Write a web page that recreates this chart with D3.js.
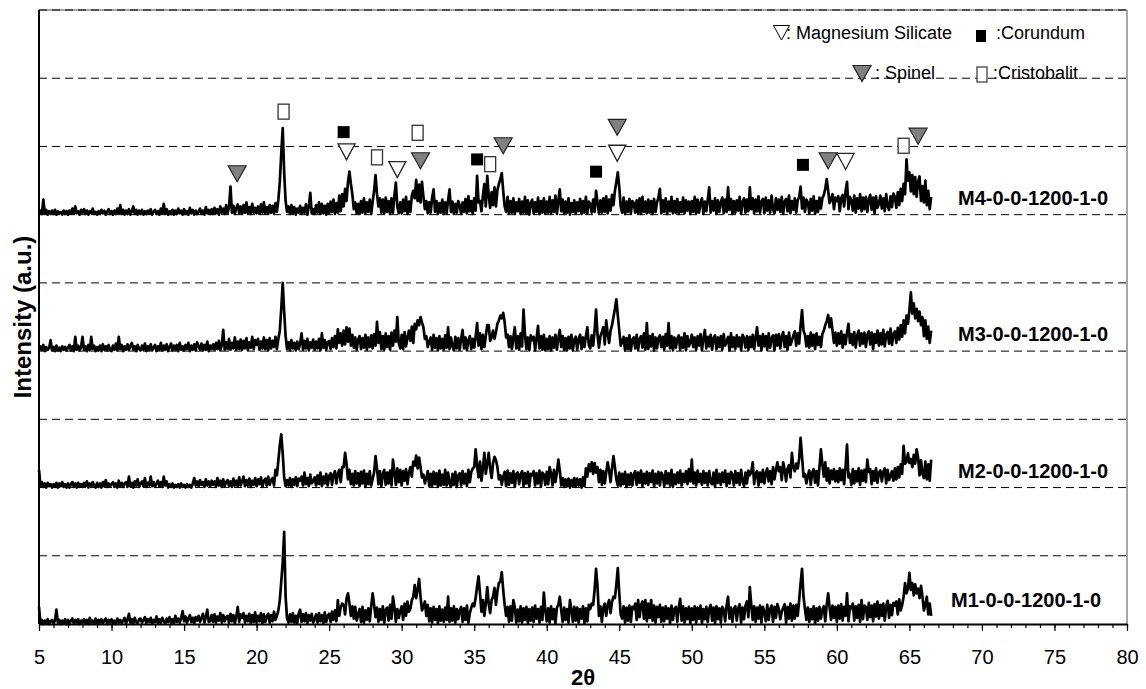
<!DOCTYPE html>
<html>
<head>
<meta charset="utf-8">
<title>XRD patterns M1-M4</title>
<script src="https://d3js.org/d3.v7.min.js"></script>
<style>
  body { margin: 0; background: #fff; }
  svg text { font-family: "Liberation Sans", Arial, sans-serif; fill: #000; }
</style>
</head>
<body>
<div id="chart"></div>
<script>
// scan: 2theta from 5.0 in steps of 0.1 deg, one row per degree
var startAngle = 5, stepAngle = 0.1;

var m1Values = [
  25,1,6,0,5,1,7,0,4,6,
  1,5,21,2,6,0,5,1,7,0,
  6,0,5,8,1,6,2,7,0,5,
  2,7,1,6,0,9,2,5,1,8,
  0,6,2,7,1,5,8,0,6,2,
  7,1,5,0,8,2,6,1,5,9,
  1,6,15,2,7,0,9,3,1,7,
  8,2,6,10,1,7,3,9,0,6,
  3,11,1,7,2,9,4,1,8,3,
  10,2,7,1,12,3,8,2,9,19,
  4,11,2,8,13,3,9,1,10,5,
  12,3,9,15,2,10,21,3,4,13,
  3,14,2,11,5,16,2,13,4,10,
  12,2,15,4,13,1,11,25,3,14,
  9,16,2,12,4,15,1,13,3,17,
  2,12,4,16,1,14,3,11,15,2,
  13,4,18,6,12,20,35,62,90,135,
  40,8,2,14,3,16,2,12,1,15,
  21,3,14,4,16,1,13,5,15,2,
  7,14,2,16,4,13,1,17,3,12,
  15,3,18,6,20,4,35,12,25,30,
  28,14,38,45,30,12,26,8,25,5,
  14,22,3,25,2,20,6,23,4,26,
  45,28,10,24,3,22,6,26,2,21,
  24,5,28,8,40,25,3,22,9,19,
  26,6,30,12,33,18,22,35,40,57,
  38,50,66,40,20,25,33,12,28,4,
  23,2,25,6,22,1,26,5,21,3,
  24,6,40,3,23,5,26,2,22,7,
  20,25,3,23,6,27,2,16,24,30,
  26,38,55,70,45,18,35,12,30,54,
  30,16,35,40,53,28,48,60,62,76,
  50,28,12,25,3,26,5,35,24,2,
  21,4,26,2,23,6,25,1,22,5,
  24,3,27,8,22,2,25,6,46,21,
  4,23,2,26,7,22,1,24,28,40,
  20,3,24,6,22,2,35,21,3,25,
  5,24,2,22,8,26,1,23,4,28,
  22,30,28,50,81,55,12,26,3,24,
  30,12,28,35,16,32,40,38,58,82,
  45,14,8,26,2,24,5,27,3,25,
  22,30,6,35,10,28,33,8,35,4,
  30,9,35,5,27,2,25,10,28,3,
  24,4,26,8,23,1,27,6,22,25,
  3,24,37,5,26,2,23,7,25,1,
  23,6,26,2,24,8,27,1,22,7,
  25,3,22,28,5,24,1,26,7,23,
  2,25,21,4,27,40,8,24,3,22,
  26,5,23,29,2,24,7,27,33,10,
  54,28,6,26,3,24,8,27,2,25,
  18,4,28,6,22,27,3,25,9,29,
  22,7,18,24,29,2,25,8,30,5,
  27,8,28,12,35,60,81,40,22,6,
  24,3,22,7,26,1,23,5,25,8,
  21,26,4,28,45,24,6,27,9,25,
  3,27,8,29,5,25,12,45,4,26,
  23,30,5,26,9,28,3,35,7,27,
  25,6,31,10,27,4,29,11,33,8,
  28,12,30,5,26,34,9,28,13,31,
  27,33,14,36,20,28,40,60,45,52,
  75,50,60,42,58,45,52,38,56,40,
  20,28,40,14,30,12
];

var m2Values = [
  26,2,8,1,6,0,7,2,5,0,
  5,1,7,0,6,2,8,1,5,0,
  6,0,5,8,1,6,0,7,2,5,
  1,7,2,9,0,6,1,8,3,0,
  7,1,6,0,8,2,11,1,6,2,
  5,8,1,6,0,10,2,7,1,6,
  8,1,16,2,7,0,9,3,12,1,
  6,9,2,14,1,7,3,16,2,8,
  1,6,10,2,8,1,16,3,9,0,
  5,1,6,0,4,1,5,0,6,1,
  4,0,5,1,4,0,6,14,3,9,
  2,11,4,8,1,12,3,9,2,10,
  4,9,1,14,3,10,1,12,2,8,
  11,2,9,1,13,3,10,2,15,3,
  9,16,2,11,3,13,1,10,4,14,
  2,12,5,15,1,10,13,3,16,4,
  11,14,3,26,18,40,62,78,50,15,
  2,11,3,14,1,12,4,15,2,13,
  10,16,3,22,5,14,2,19,6,9,
  15,3,18,5,22,2,16,6,20,3,
  17,21,4,19,24,6,20,26,8,30,
  30,51,35,12,26,5,20,3,24,6,
  21,2,23,6,25,1,20,5,24,3,
  13,22,46,28,5,24,2,20,26,4,
  22,6,25,3,41,23,4,28,8,26,
  3,24,10,27,5,22,30,16,38,32,
  47,28,44,30,15,19,6,14,24,2,
  20,2,23,5,21,1,25,3,19,4,
  26,3,22,6,1,20,4,23,1,18,
  21,3,24,6,20,2,26,8,23,28,
  30,56,32,15,38,10,28,51,20,35,
  51,28,14,36,45,40,30,12,18,4,
  16,23,2,25,4,21,7,24,1,20,
  22,5,19,24,2,21,6,23,1,20,
  18,24,3,21,6,25,1,22,19,4,
  23,5,30,21,3,26,8,22,41,25,
  3,14,1,12,2,13,0,11,2,14,
  1,13,3,12,0,15,2,28,16,34,
  24,37,20,36,22,30,8,26,4,24,
  6,22,37,25,8,28,46,30,12,3,
  22,2,20,5,23,1,19,4,21,3,
  19,24,4,22,7,25,2,20,6,23,
  4,21,8,25,1,20,6,23,3,22,
  18,2,24,6,21,3,26,1,19,5,
  22,7,25,3,20,8,24,5,27,9,
  41,6,22,3,25,8,20,4,24,7,
  21,3,24,8,5,22,1,26,7,20,
  4,22,8,25,2,20,6,23,19,3,
  24,7,21,4,26,9,2,22,6,25,
  18,23,37,5,20,24,3,22,8,26,
  6,21,28,9,24,5,30,12,26,37,
  24,30,11,37,26,9,28,33,15,51,
  30,24,35,28,42,73,45,16,20,6,
  18,25,4,22,27,7,24,3,30,56,
  34,16,37,10,28,6,25,12,27,9,
  24,8,28,11,26,5,30,63,15,20,
  4,27,6,24,9,28,4,25,10,26,
  8,41,23,27,5,24,10,28,7,22,
  25,9,23,28,6,26,11,17,24,10,
  28,12,30,15,34,20,61,35,38,50,
  36,42,30,48,35,56,44,18,40,20,
  14,38,12,34,10,41
];

var m3Values = [
  1,7,2,9,0,6,2,5,16,1,
  6,0,8,1,5,0,7,2,6,1,
  5,9,1,7,0,21,2,8,1,6,
  21,2,7,0,9,1,21,3,8,0,
  6,1,8,0,10,2,7,1,9,2,
  0,8,2,11,1,21,3,9,0,7,
  2,10,1,8,12,2,7,0,9,3,
  1,8,2,11,0,7,2,10,1,6,
  9,0,7,2,12,1,8,2,10,0,
  6,11,1,8,2,9,0,12,2,7,
  1,9,3,12,0,8,2,10,1,13,
  7,2,11,1,9,2,14,0,8,3,
  10,2,12,3,15,1,9,31,2,13,
  3,18,2,12,4,20,2,14,3,17,
  2,15,4,19,2,13,5,21,3,16,
  9,18,2,14,4,20,3,16,1,19,
  4,15,6,21,3,18,30,62,100,58,
  22,3,13,1,16,4,12,1,14,3,
  11,26,2,15,4,18,1,13,5,17,
  2,14,4,18,1,26,5,16,2,13,
  15,3,19,6,22,4,32,12,26,8,
  30,10,35,14,33,8,24,5,20,2,
  17,22,3,19,5,24,2,20,6,23,
  4,25,8,43,12,28,3,22,2,26,
  6,22,2,27,8,30,14,50,12,4,
  24,3,28,7,20,30,15,36,12,40,
  32,45,38,50,42,35,18,22,6,14,
  20,2,24,5,19,1,22,4,18,2,
  23,5,35,3,20,7,1,21,4,19,
  2,18,31,4,20,1,16,22,3,18,
  5,21,41,8,26,3,24,6,22,38,
  38,15,20,30,18,28,40,45,52,48,
  56,42,20,24,6,22,3,20,35,4,
  22,2,26,7,61,24,3,20,1,23,
  16,21,1,19,37,4,22,2,24,1,
  18,3,22,1,20,5,24,2,19,31,
  6,22,2,19,1,21,4,24,1,17,
  21,2,18,24,3,20,6,22,35,9,
  4,23,8,30,61,24,5,22,28,35,
  10,45,26,12,30,38,50,62,76,52,
  30,8,14,21,1,19,3,23,1,17,
  20,4,24,2,18,22,5,26,2,41,
  3,22,7,25,1,20,4,19,23,6,
  21,2,25,8,41,4,22,1,20,5,
  18,23,2,20,5,26,1,22,7,13,
  24,6,20,2,22,8,25,1,19,31,
  4,21,7,24,2,19,23,3,20,6,
  22,2,25,8,14,21,1,26,6,20,
  3,23,7,20,1,24,19,5,22,2,
  21,6,24,3,20,35,8,22,1,25,
  7,22,2,26,5,19,23,1,24,8,
  25,4,21,28,6,22,2,27,9,15,
  23,29,8,26,11,38,60,30,24,7,
  22,5,27,8,24,3,26,9,21,6,
  25,30,38,44,53,35,48,30,12,27,
  8,26,11,29,5,24,10,27,40,12,
  25,9,28,5,23,30,8,26,11,27,
  6,24,29,10,27,3,25,12,30,8,
  26,10,31,7,24,28,11,33,9,25,
  29,12,34,17,38,21,45,26,52,40,
  60,86,55,70,48,62,44,58,38,50,
  22,45,18,36,12,30
];

var m4Values = [
  2,6,1,22,2,7,0,5,1,6,
  1,7,0,5,2,4,0,6,1,5,
  0,6,2,9,1,12,2,5,0,7,
  3,8,1,6,0,5,2,9,1,4,
  0,5,1,7,2,6,0,4,8,1,
  5,0,6,1,9,2,14,1,7,0,
  6,1,8,0,5,12,1,7,0,6,
  1,7,0,5,1,6,2,8,0,4,
  7,1,5,0,9,2,16,1,8,0,
  5,1,7,0,6,1,9,2,6,0,
  8,1,5,0,10,2,7,0,6,1,
  4,9,1,6,0,11,2,7,1,8,
  1,10,2,8,0,12,3,9,1,14,
  2,11,41,3,13,1,10,15,2,12,
  1,14,3,18,2,11,1,16,3,10,
  2,12,1,15,3,18,2,11,1,14,
  3,13,2,17,4,22,48,90,127,62,
  20,4,12,1,14,2,11,0,9,3,
  13,1,10,3,15,0,12,32,2,8,
  1,14,3,18,1,16,2,13,0,16,
  2,19,4,22,1,17,3,28,5,30,
  12,38,20,48,63,45,30,8,18,2,
  16,1,20,3,24,2,18,4,22,1,
  19,35,58,30,12,24,3,22,2,25,
  4,20,1,24,3,28,47,12,2,18,
  2,22,5,26,1,19,4,28,35,24,
  51,20,44,18,48,26,8,20,2,18,
  3,25,37,4,20,1,17,3,22,1,
  18,2,21,37,4,19,1,16,3,20,
  14,1,18,4,23,2,27,5,20,1,
  24,6,57,18,20,5,28,45,12,57,
  28,10,33,14,40,12,36,45,52,61,
  35,12,4,26,2,20,3,24,1,18,
  5,23,1,19,3,26,2,21,0,17,
  22,2,18,4,25,1,20,3,24,1,
  19,3,26,2,21,4,28,1,20,37,
  5,22,1,19,3,24,0,17,4,21,
  2,18,5,23,1,20,3,26,2,19,
  16,3,22,4,35,18,2,21,3,24,
  4,27,2,22,6,29,14,35,48,62,
  40,12,3,25,1,19,4,23,2,20,
  17,3,21,2,24,1,26,4,19,2,
  22,3,20,1,23,4,18,25,38,2,
  21,4,24,1,19,5,26,2,20,3,
  23,1,18,4,25,2,21,6,19,1,
  20,4,26,2,22,3,18,24,1,19,
  5,22,40,3,20,6,24,1,21,4,
  18,25,2,22,4,40,7,23,1,20,
  3,21,6,26,1,19,24,3,22,5,
  40,8,24,2,22,5,27,3,19,23,
  2,25,6,21,3,28,8,2,24,7,
  22,4,26,1,19,23,5,28,2,20,
  7,24,3,21,26,41,9,25,4,22,
  18,2,23,6,27,1,20,4,25,9,
  24,29,38,52,35,17,22,30,8,25,
  20,27,5,24,29,12,34,48,8,26,
  21,6,28,3,24,9,30,5,25,8,
  26,4,22,29,7,25,2,27,10,16,
  28,9,24,5,30,12,7,27,11,31,
  26,10,33,14,38,20,45,30,81,50,
  62,34,58,30,55,26,48,56,20,42,
  18,50,14,35,8,26
];

var seriesNames = ["M1-0-0-1200-1-0", "M2-0-0-1200-1-0", "M3-0-0-1200-1-0", "M4-0-0-1200-1-0"];
var seriesOffsets = [0, 200, 400, 600];
var seriesValues = [m1Values, m2Values, m3Values, m4Values];

var xTicks = [5, 10, 15, 20, 25, 30, 35, 40, 45, 50, 55, 60, 65, 70, 75, 80];

// phase marks above the M4 pattern
var markAngles = [18.66, 21.86, 26.0, 26.2, 28.3, 29.7, 31.1, 31.3, 35.2, 36.1, 37.0, 43.4, 44.86, 44.86, 57.66, 59.4, 60.6, 64.6, 65.6];
var markLevels = [660, 751, 721, 692, 684, 666, 720, 679, 681, 674, 701, 663, 728, 690, 673, 679, 678, 701, 715];
var markPhases = ["spinel", "cristobalit", "corundum", "magnesium", "cristobalit", "magnesium", "cristobalit", "spinel",
                  "corundum", "cristobalit", "spinel", "corundum", "spinel", "magnesium", "corundum", "spinel",
                  "magnesium", "cristobalit", "spinel"];

var W = 1146, H = 689;
var svg = d3.select("#chart").append("svg").attr("width", W).attr("height", H);

var x = d3.scaleLinear().domain([5, 80]).range([39, 1127]);
var y = d3.scaleLinear().domain([0, 900]).range([624, 10]);

// frame (grey right / top)
svg.append("line").attr("x1", x(5)).attr("x2", x(80)).attr("y1", y(900)).attr("y2", y(900))
    .attr("stroke", "#8a8a8a").attr("stroke-width", 1.5);
svg.append("line").attr("x1", x(80)).attr("x2", x(80)).attr("y1", y(900)).attr("y2", y(0))
    .attr("stroke", "#8a8a8a").attr("stroke-width", 1.5);

// dashed horizontal grid
svg.append("g").selectAll("line")
    .data(d3.range(100, 901, 100))
    .enter().append("line")
    .attr("x1", x(5)).attr("x2", x(80))
    .attr("y1", function(d) { return y(d); })
    .attr("y2", function(d) { return y(d); })
    .attr("stroke", "#000").attr("stroke-width", 1)
    .attr("stroke-dasharray", "8,5");

// patterns
var line = d3.line()
    .x(function(d, i) { return x(startAngle + i * stepAngle); })
    .y(function(d) { return y(d.v); });

seriesValues.forEach(function(vals, k) {
  var pts = vals.map(function(v) { return { v: v + seriesOffsets[k] }; });
  svg.append("path")
      .datum(pts)
      .attr("fill", "none")
      .attr("stroke", "#000")
      .attr("stroke-width", 2.7)
      .attr("stroke-linejoin", "round")
      .attr("d", line);

  svg.append("text")
      .attr("x", k === 0 ? 951 : 958)
      .attr("y", y(seriesOffsets[k]) - (k === 0 ? 17 : 10))
      .attr("font-size", 20)
      .attr("font-weight", "bold")
      .text(seriesNames[k]);
});

// x axis, minor then major ticks
var xMinor = svg.append("g").attr("transform", "translate(0," + y(0) + ")")
    .call(d3.axisBottom(x).tickValues(d3.range(5, 81, 1)).tickSize(4).tickFormat(""));
xMinor.select(".domain").remove();
xMinor.selectAll("line").attr("stroke", "#000").attr("stroke-width", 1.2);

var xAxis = svg.append("g").attr("transform", "translate(0," + y(0) + ")")
    .call(d3.axisBottom(x).tickValues(xTicks).tickSize(7).tickSizeOuter(0).tickPadding(19));
xAxis.select(".domain").attr("stroke", "#000").attr("stroke-width", 2);
xAxis.selectAll("line").attr("stroke", "#000").attr("stroke-width", 1.2);
xAxis.selectAll("text")
    .attr("font-size", 20)
    .attr("font-family", "'Liberation Sans', Arial, sans-serif");

// y axis line
svg.append("line").attr("x1", x(5)).attr("x2", x(5)).attr("y1", y(900)).attr("y2", y(0))
    .attr("stroke", "#000").attr("stroke-width", 2);

// titles
svg.append("text")
    .attr("x", (x(5) + x(80)) / 2).attr("y", 685)
    .attr("text-anchor", "middle")
    .attr("font-size", 22).attr("font-weight", "bold")
    .text("2θ");

svg.append("text")
    .attr("transform", "translate(31," + (y(0) + y(900)) / 2 + ") rotate(-90)")
    .attr("text-anchor", "middle")
    .attr("font-size", 24).attr("font-weight", "bold")
    .text("Intensity (a.u.)");

// phase symbols
function drawMark(g, phase, cx, cy) {
  if (phase === "spinel") {
    g.append("path").attr("d", "M" + (cx - 9) + "," + (cy - 8) + "L" + (cx + 9) + "," + (cy - 8) + "L" + cx + "," + (cy + 8) + "Z")
        .attr("fill", "#808080").attr("stroke", "#222").attr("stroke-width", 1.2);
  } else if (phase === "magnesium") {
    g.append("path").attr("d", "M" + (cx - 8.5) + "," + (cy - 8) + "L" + (cx + 8.5) + "," + (cy - 8) + "L" + cx + "," + (cy + 8) + "Z")
        .attr("fill", "#fff").attr("stroke", "#222").attr("stroke-width", 1.3);
  } else if (phase === "cristobalit") {
    g.append("rect").attr("x", cx - 5.5).attr("y", cy - 7.5).attr("width", 11).attr("height", 15)
        .attr("fill", "#fff").attr("stroke", "#333").attr("stroke-width", 1.3);
  } else {
    g.append("rect").attr("x", cx - 6).attr("y", cy - 6).attr("width", 12).attr("height", 12)
        .attr("fill", "#000");
  }
}

var marks = svg.append("g");
markAngles.forEach(function(a, i) {
  drawMark(marks, markPhases[i], x(a), y(markLevels[i]));
});

// legend
var leg = svg.append("g");
leg.append("path").attr("d", "M773.5,25.5L789.5,25.5L781.5,40Z")
    .attr("fill", "#fff").attr("stroke", "#000").attr("stroke-width", 1);
leg.append("text").attr("x", 786).attr("y", 39).attr("font-size", 18).text(": Magnesium Silicate");
leg.append("rect").attr("x", 976).attr("y", 30).attr("width", 10).attr("height", 12).attr("fill", "#000");
leg.append("text").attr("x", 996).attr("y", 39).attr("font-size", 18).text(":Corundum");
drawMark(leg, "spinel", 862, 73.5);
leg.append("text").attr("x", 875).attr("y", 79).attr("font-size", 18).text(": Spinel");
leg.append("rect").attr("x", 977).attr("y", 67).attr("width", 10).attr("height", 15)
    .attr("fill", "#fff").attr("stroke", "#333").attr("stroke-width", 1.2);
leg.append("text").attr("x", 993).attr("y", 79).attr("font-size", 18).text(":Cristobalit");
</script>
</body>
</html>
